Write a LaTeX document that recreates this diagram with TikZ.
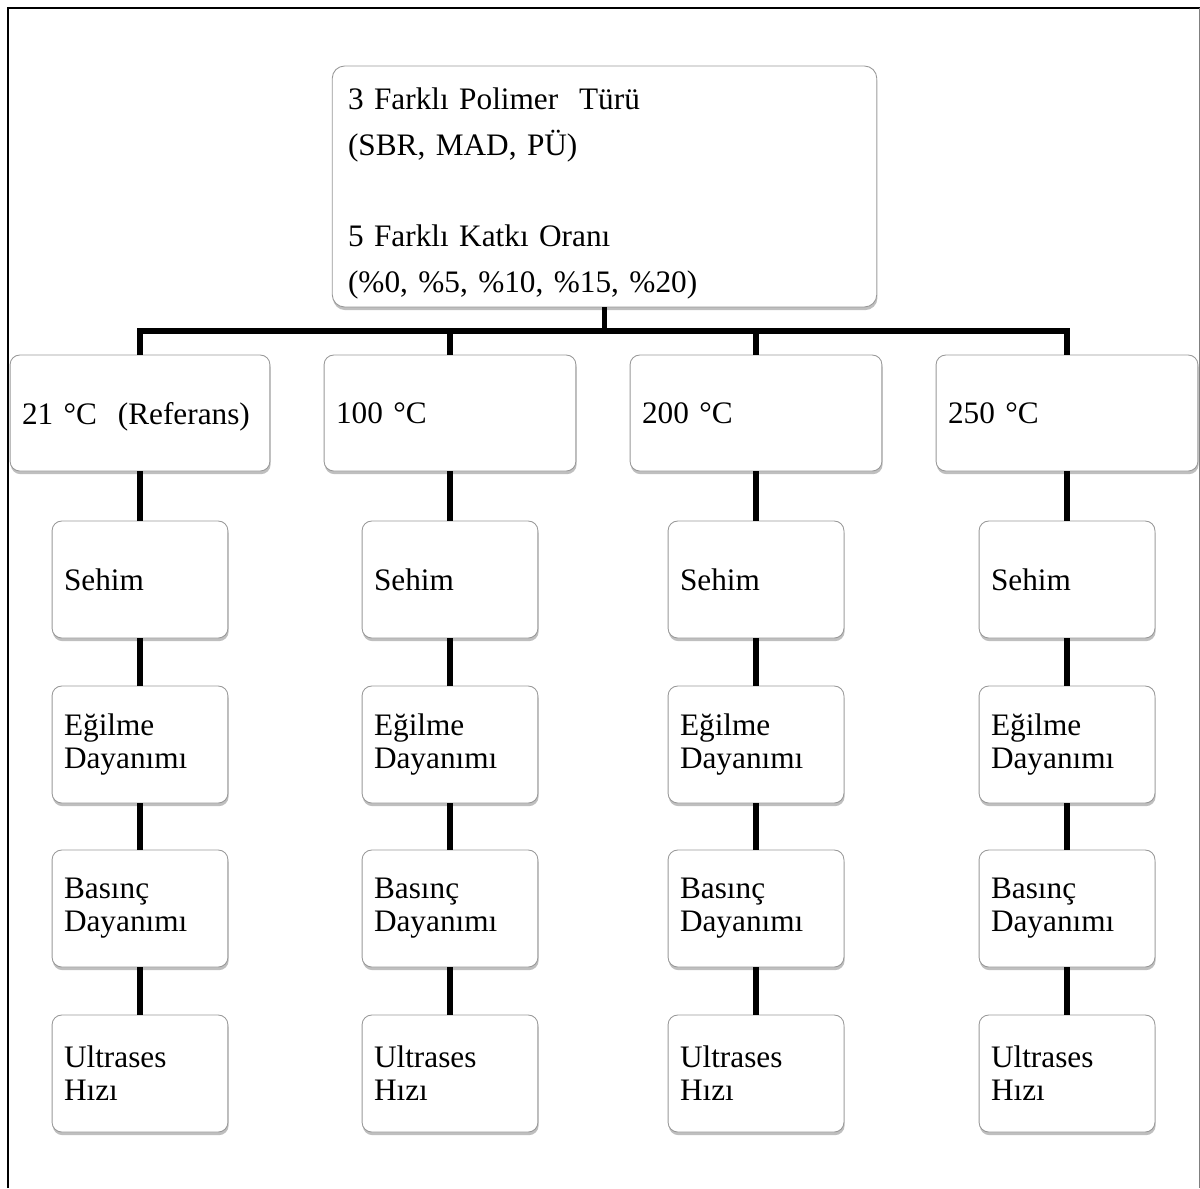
\documentclass[tikz,border=0pt]{standalone}
\usepackage{fontspec}
\setmainfont{Liberation Serif}
\usetikzlibrary{shadows}

\tikzset{
    kutu/.style={draw=gray!80, fill=white, line width=0.5pt, rounded corners=5.5pt,
        drop shadow={shadow xshift=0.4pt, shadow yshift=-1.8pt, opacity=0.5},
        align=left, inner xsep=6.8pt, inner ysep=0pt,
        font=\fontsize{17.8}{18.7}\selectfont},
    sicaklik/.style={kutu, minimum height=2.32cm, text depth=0pt},
    deney/.style={kutu, text width=3.04cm, minimum height=2.34cm},
    hat/.style={line width=3.3pt},
}

\begin{document}
\begin{tikzpicture}[x=0.02cm,y=-0.02cm]
            \useasboundingbox (0,0) rectangle (1200,1188);
            \draw[line width=1.1pt] (8,1188) -- (8,8) -- (1200,8);
            \draw[gray, line width=0.5pt] (1199,8) -- (1199,1188);
            \node[kutu, rounded corners=7pt, text width=10.26cm, inner xsep=9pt, minimum height=4.82cm,
                font=\fontsize{17.8}{26}\selectfont] (ust) at (604.5,186.5)
                {\rule{0pt}{20pt}3 Farklı Polimer\ \ Türü\\(SBR, MAD, PÜ)\\[26pt]5 Farklı Katkı Oranı\\(\%0, \%5, \%10, \%15, \%20)};
            \coordinate (bara) at (604.5,331);
            \foreach \i/\x/\w/\t in {1/140/4.72/21 °C\ \ (Referans), 2/450/4.56/100 °C, 3/756/4.56/200 °C, 4/1067/4.76/250 °C} {
                \node[sicaklik, text width=\w cm] (t\i) at (\x,413) {\t};
                \node[deney] (s\i) at (\x,579.5) {Sehim};
                \node[deney] (e\i) at (\x,744.5) {Eğilme\\Dayanımı};
                \node[deney] (b\i) at (\x,908.5) {Basınç\\Dayanımı};
                \node[deney] (u\i) at (\x,1073.5) {Ultrases\\Hızı};
                \draw[hat] (t\i.south) -- (s\i.north);
                \draw[hat] (s\i.south) -- (e\i.north);
                \draw[hat] (e\i.south) -- (b\i.north);
                \draw[hat] (b\i.south) -- (u\i.north);
            }
            \draw[hat] (ust.south) -- (bara);
            \draw[hat] (t1.north) |- (bara) -| (t4.north);
            \draw[hat] (t2.north) -- (t2.north |- bara);
            \draw[hat] (t3.north) -- (t3.north |- bara);
\end{tikzpicture}
\end{document}
